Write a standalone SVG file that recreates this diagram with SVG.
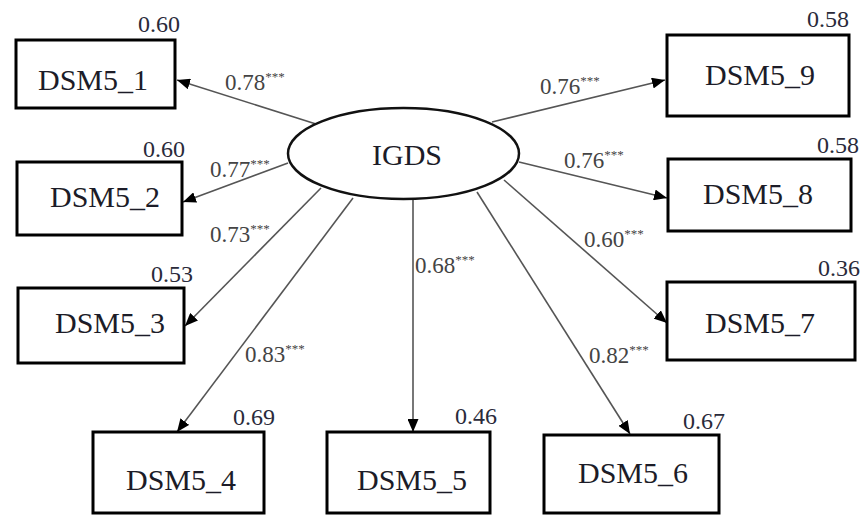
<svg xmlns="http://www.w3.org/2000/svg" width="864" height="516" viewBox="0 0 864 516">
<style>
text{font-family:'Liberation Serif','Times New Roman',Times,'DejaVu Serif',serif}
.box{fill:#fff;stroke:#000;stroke-width:3}
.lat{fill:#fff;stroke:#111;stroke-width:2.5}
.nt{font-size:30px;fill:#1c1c28;text-anchor:middle}
.var{font-size:24px;fill:#2a2a3a;text-anchor:end}
.el{font-size:23px;fill:#444}
.st{font-size:13px}
.edge{stroke:#555;stroke-width:1.6;fill:none;marker-end:url(#ah)}
</style>
<defs>
<marker id="ah" markerUnits="userSpaceOnUse" markerWidth="13" markerHeight="11" refX="13" refY="5.5" orient="auto">
<path d="M0,0 L13,5.5 L0,11 z" fill="#000"/>
</marker>
</defs>
<rect width="864" height="516" fill="#fff"/>
<g id="connectors" font-family="Liberation Serif, serif">
<line class="edge" x1="316" y1="124" x2="177" y2="80"/>
<line class="edge" x1="288" y1="163" x2="183" y2="202"/>
<line class="edge" x1="321" y1="188" x2="185" y2="326"/>
<line class="edge" x1="353" y1="198" x2="177" y2="432"/>
<line class="edge" x1="413" y1="199" x2="413" y2="432"/>
<line class="edge" x1="477" y1="192" x2="630" y2="434"/>
<line class="edge" x1="504" y1="180" x2="667" y2="323"/>
<line class="edge" x1="519" y1="162" x2="667" y2="198"/>
<line class="edge" x1="492" y1="122" x2="665" y2="80"/>
<text class="el" x="225" y="90">0.78<tspan class="st" dy="-9">***</tspan></text>
<text class="el" x="210" y="177">0.77<tspan class="st" dy="-9">***</tspan></text>
<text class="el" x="210" y="242">0.73<tspan class="st" dy="-9">***</tspan></text>
<text class="el" x="245" y="362">0.83<tspan class="st" dy="-9">***</tspan></text>
<text class="el" x="415" y="273">0.68<tspan class="st" dy="-9">***</tspan></text>
<text class="el" x="589" y="363">0.82<tspan class="st" dy="-9">***</tspan></text>
<text class="el" x="584" y="247">0.60<tspan class="st" dy="-9">***</tspan></text>
<text class="el" x="564" y="168">0.76<tspan class="st" dy="-9">***</tspan></text>
<text class="el" x="540" y="94">0.76<tspan class="st" dy="-9">***</tspan></text>
</g>
<g id="IGDS">
<ellipse class="lat" cx="403.5" cy="153.5" rx="115.5" ry="45.5"/>
<text class="nt" x="407" y="165">IGDS</text>
</g>
<g id="DSM5_1">
<rect class="box" x="16" y="40" width="159" height="68"/>
<text class="nt" x="93" y="90">DSM5_1</text>
<text class="var" x="180" y="32">0.60</text>
</g>
<g id="DSM5_2">
<rect class="box" x="17" y="162" width="165" height="73"/>
<text class="nt" x="105" y="207">DSM5_2</text>
<text class="var" x="185" y="157">0.60</text>
</g>
<g id="DSM5_3">
<rect class="box" x="18" y="288" width="166" height="75"/>
<text class="nt" x="110" y="333">DSM5_3</text>
<text class="var" x="193" y="282">0.53</text>
</g>
<g id="DSM5_4">
<rect class="box" x="93" y="432" width="171" height="81"/>
<text class="nt" x="181" y="490">DSM5_4</text>
<text class="var" x="275" y="425">0.69</text>
</g>
<g id="DSM5_5">
<rect class="box" x="327" y="432" width="163" height="81"/>
<text class="nt" x="412" y="490">DSM5_5</text>
<text class="var" x="497" y="424">0.46</text>
</g>
<g id="DSM5_6">
<rect class="box" x="544" y="435" width="175" height="78"/>
<text class="nt" x="633" y="483">DSM5_6</text>
<text class="var" x="725" y="429">0.67</text>
</g>
<g id="DSM5_7">
<rect class="box" x="667" y="282" width="188" height="78"/>
<text class="nt" x="760" y="333">DSM5_7</text>
<text class="var" x="860" y="276">0.36</text>
</g>
<g id="DSM5_8">
<rect class="box" x="668" y="159" width="183" height="72"/>
<text class="nt" x="758" y="204">DSM5_8</text>
<text class="var" x="859" y="153">0.58</text>
</g>
<g id="DSM5_9">
<rect class="box" x="667" y="35" width="182" height="81"/>
<text class="nt" x="760" y="85">DSM5_9</text>
<text class="var" x="849" y="27">0.58</text>
</g>
</svg>
